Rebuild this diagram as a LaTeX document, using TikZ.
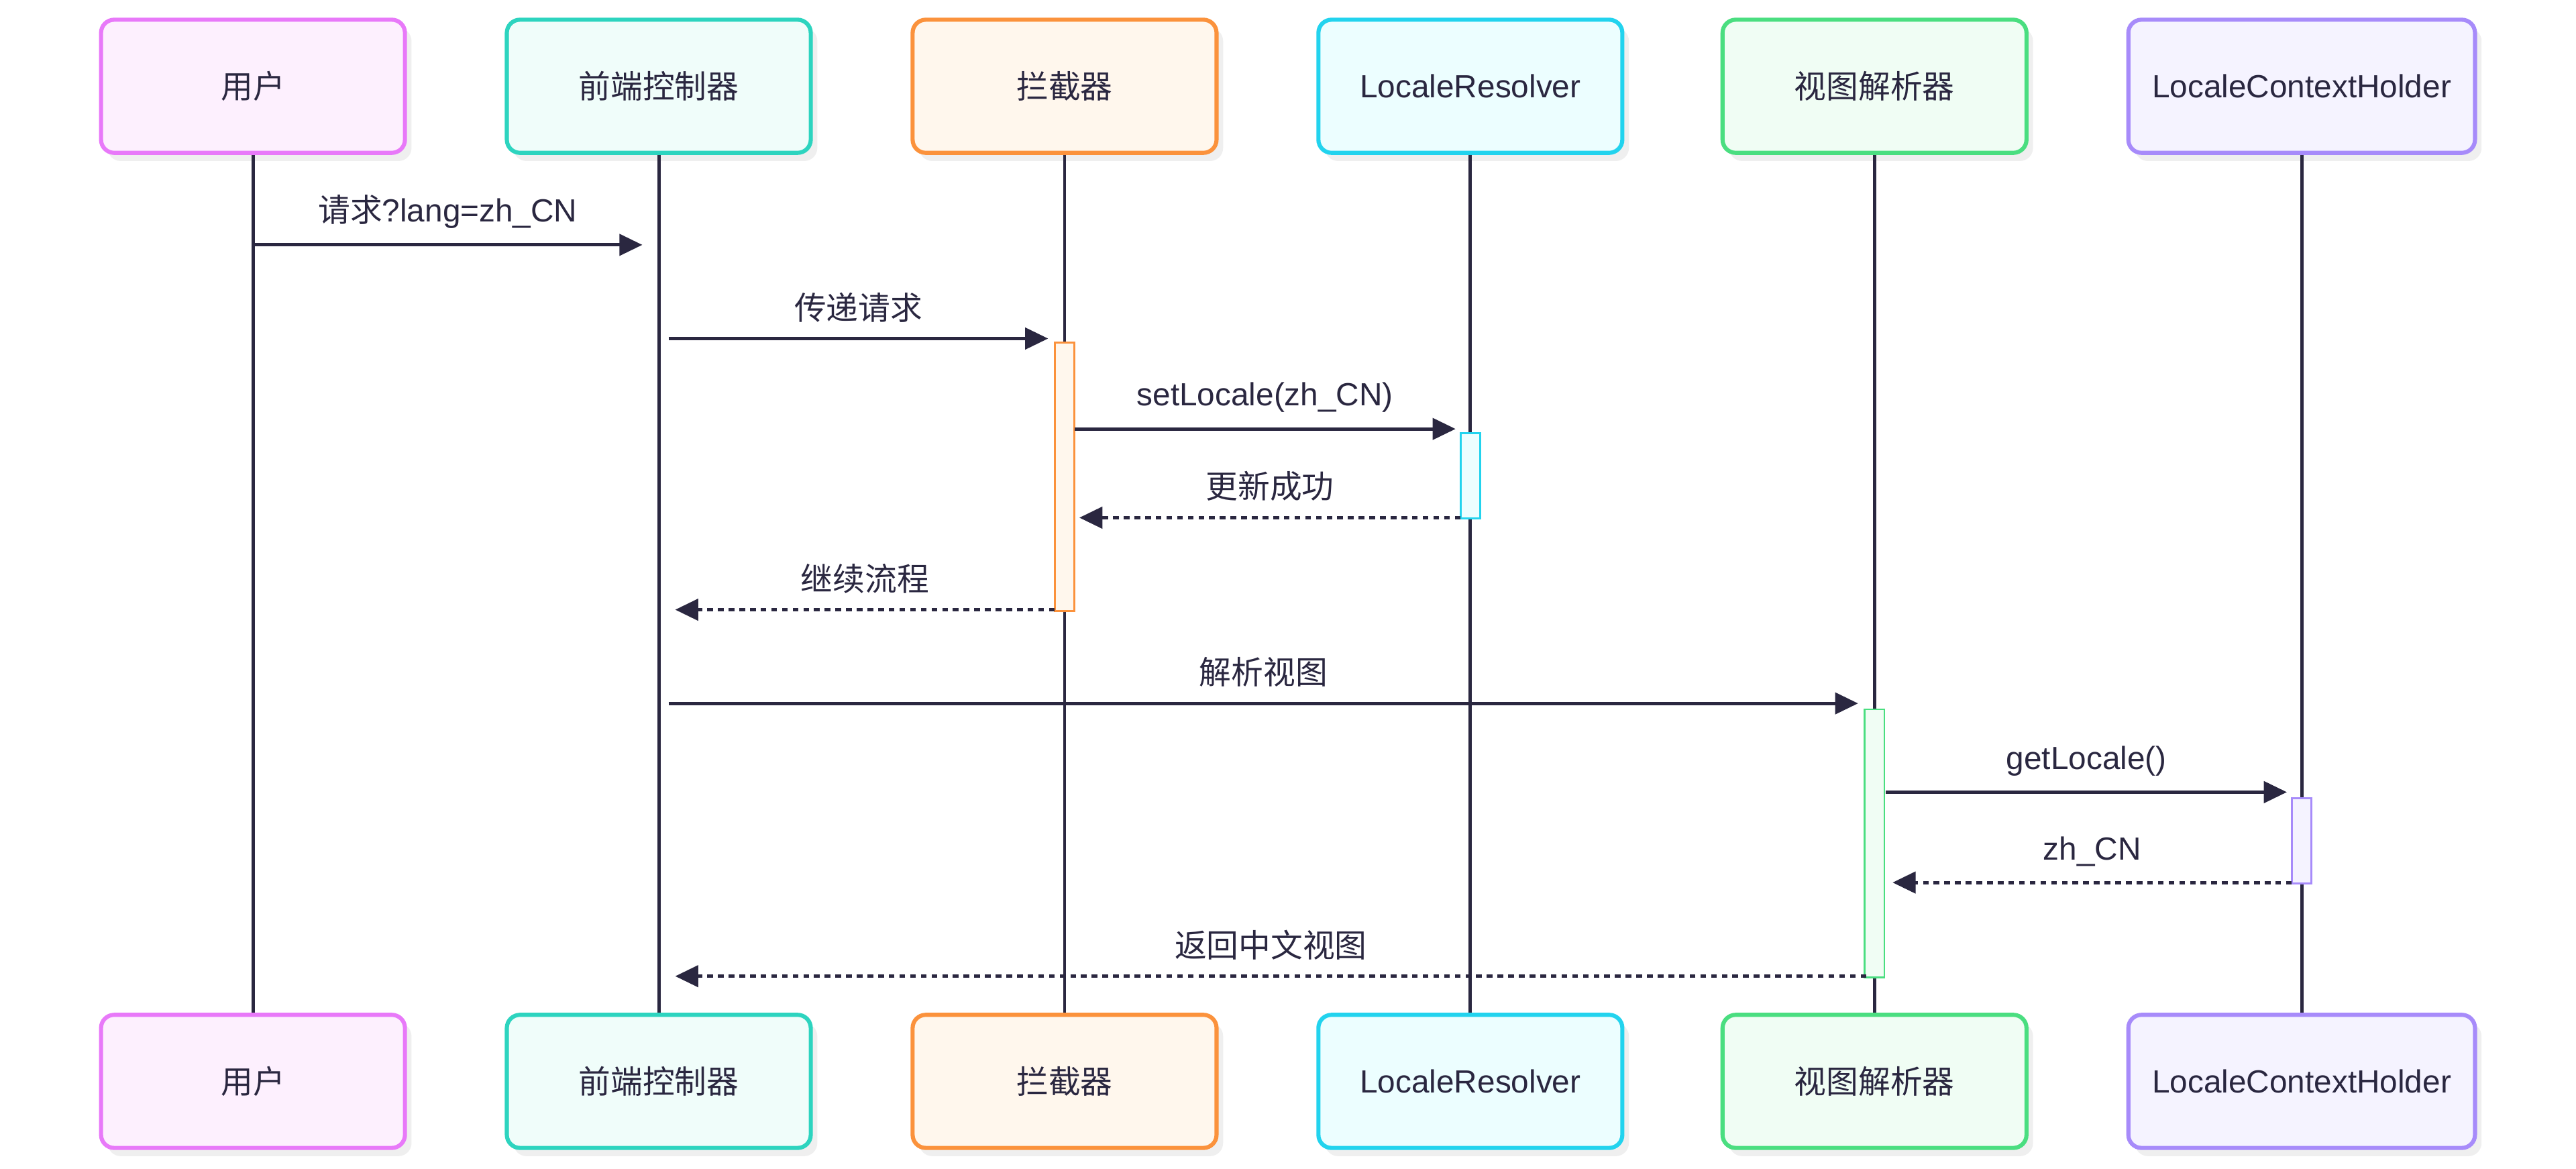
\documentclass[tikz,border=0pt]{standalone}
\usepackage{fontspec}
\setmainfont{Liberation Sans}
\newfontfamily\cjk{Noto Sans CJK SC}
\usetikzlibrary{arrows.meta,calc}
\definecolor{ink}{HTML}{2A2740}
\definecolor{pkB}{HTML}{E879F9}\definecolor{pkF}{HTML}{FDF0FE}
\definecolor{tlB}{HTML}{2DD4BF}\definecolor{tlF}{HTML}{F0FDFA}
\definecolor{orB}{HTML}{FB923C}\definecolor{orF}{HTML}{FFF7ED}
\definecolor{cyB}{HTML}{22D3EE}\definecolor{cyF}{HTML}{ECFEFF}
\definecolor{grB}{HTML}{4ADE80}\definecolor{grF}{HTML}{F0FDF4}
\definecolor{puB}{HTML}{A78BFA}\definecolor{puF}{HTML}{F5F3FF}
\definecolor{shd}{HTML}{EFEFEF}
\begin{document}
\begin{tikzpicture}[x=1pt,y=1pt,
  actor/.style={draw=#1B,fill=#1F,line width=2.5pt,rounded corners=8pt,minimum height=81pt,text=ink,font=\fontsize{19.5}{23}\selectfont,
    preaction={fill=shd,draw=none,transform canvas={shift={(4pt,-5pt)}}}},
  act/.style={draw=#1B,fill=#1F,line width=1.2pt},
  life/.style={draw=ink,line width=2pt},
  msg/.style={draw=ink,line width=2pt,-{Triangle[length=14pt,width=13pt]}},
  ret/.style={msg,dash pattern=on 3.5pt off 3pt},
  lbl/.style={text=ink,font=\fontsize{19.5}{23}\selectfont,inner sep=0pt}]
\useasboundingbox (0,0) rectangle (1568,-711);
\foreach \n/\x/\w/\c/\t in {u/154/185/pk/{\cjk 用户}, f/401/185/tl/{\cjk 前端控制器}, i/648/185/or/{\cjk 拦截器}, r/895/185/cy/LocaleResolver, v/1141/185/gr/{\cjk 视图解析器}, h/1401/211/pu/LocaleContextHolder}{
  \node[actor=\c,minimum width=\w pt] (\n t) at (\x,-52.5) {\t};
  \node[actor=\c,minimum width=\w pt] (\n b) at (\x,-658) {\t};
  \draw[life] (\n t.south) -- (\n b.north);
}
\node[act=or,minimum width=12pt,minimum height=163pt,inner sep=0pt,anchor=north] (ai) at (648,-208) {};
\node[act=cy,minimum width=12pt,minimum height=52pt,inner sep=0pt,anchor=north] (ar) at (895,-263) {};
\node[act=gr,minimum width=12pt,minimum height=163pt,inner sep=0pt,anchor=north] (av) at (1141,-431) {};
\node[act=pu,minimum width=12pt,minimum height=52pt,inner sep=0pt,anchor=north] (ah) at (1401,-485) {};
% messages
\coordinate (m1a) at (154,-149); \coordinate (m1b) at (391,-149);
\draw[msg] (m1a) -- (m1b) node[lbl,midway,above=9pt] {{\cjk 请求}?lang=zh\_CN};
\coordinate (m2a) at (407,-206); \coordinate (m2b) at (638,-206);
\draw[msg] (m2a) -- (m2b) node[lbl,midway,above=9pt] {\cjk 传递请求};
\coordinate (m3a) at (654,-261); \coordinate (m3b) at (886,-261);
\draw[msg] (m3a) -- (m3b) node[lbl,midway,above=9pt] {setLocale(zh\_CN)};
\coordinate (m4a) at (889,-315); \coordinate (m4b) at (657,-315);
\draw[ret] (m4a) -- (m4b) node[lbl,midway,above=9pt] {\cjk 更新成功};
\coordinate (m5a) at (642,-371); \coordinate (m5b) at (411,-371);
\draw[ret] (m5a) -- (m5b) node[lbl,midway,above=9pt] {\cjk 继续流程};
\coordinate (m6a) at (407,-428); \coordinate (m6b) at (1131,-428);
\draw[msg] (m6a) -- (m6b) node[lbl,midway,above=9pt] {\cjk 解析视图};
\coordinate (m7a) at (1148,-482); \coordinate (m7b) at (1392,-482);
\draw[msg] (m7a) -- (m7b) node[lbl,midway,above=9pt] {getLocale()};
\coordinate (m8a) at (1395,-537); \coordinate (m8b) at (1152,-537);
\draw[ret] (m8a) -- (m8b) node[lbl,midway,above=9pt] {zh\_CN};
\coordinate (m9a) at (1136,-594); \coordinate (m9b) at (411,-594);
\draw[ret] (m9a) -- (m9b) node[lbl,midway,above=9pt] {\cjk 返回中文视图};
\end{tikzpicture}
\end{document}
